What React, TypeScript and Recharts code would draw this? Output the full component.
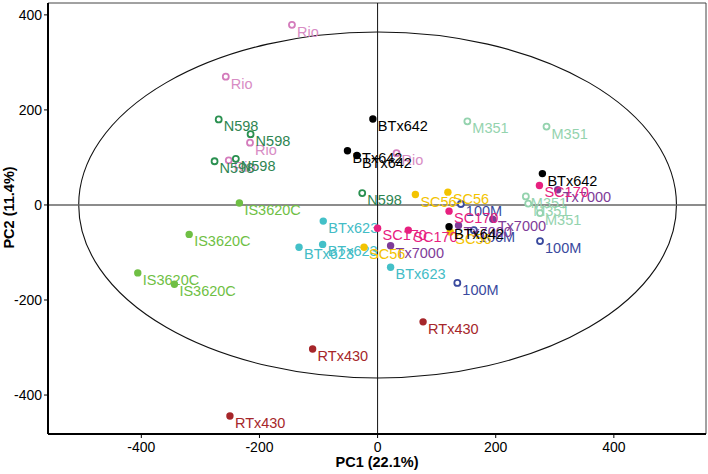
import React from 'react';
import { ScatterChart, Scatter, XAxis, YAxis, ReferenceLine, ReferenceArea } from 'recharts';

// PC1 / PC2 scores per genotype
const rio = [
  { x: -145, y: 379 },
  { x: -257, y: 270 },
  { x: -216, y: 131 },
  { x: -252, y: 94 },
  { x: 32, y: 109 },
];
const n598 = [
  { x: -269, y: 180 },
  { x: -215, y: 149 },
  { x: -276, y: 92 },
  { x: -240, y: 97 },
  { x: -26, y: 25 },
];
const is3620c = [
  { x: -234, y: 4 },
  { x: -319, y: -62 },
  { x: -406, y: -143 },
  { x: -344, y: -167 },
];
const btx623 = [
  { x: -92, y: -34 },
  { x: -133, y: -89 },
  { x: -93, y: -83 },
  { x: 22, y: -131 },
];
const m351 = [
  { x: 152, y: 176 },
  { x: 286, y: 165 },
  { x: 251, y: 18 },
  { x: 255, y: 3 },
  { x: 275, y: -17 },
];
const m100 = [
  { x: 141, y: 2 },
  { x: 163, y: -53 },
  { x: 275, y: -76 },
  { x: 135, y: -164 },
];
const tx7000 = [
  { x: 305, y: 32 },
  { x: 195, y: -30 },
  { x: 137, y: -43 },
  { x: 22, y: -86 },
];
const sc56 = [
  { x: 64, y: 22 },
  { x: 119, y: 27 },
  { x: 123, y: -57 },
  { x: -23, y: -89 },
];
const sc170 = [
  { x: 274, y: 41 },
  { x: 121, y: -13 },
  { x: 0, y: -49 },
  { x: 52, y: -53 },
];
const btx642 = [
  { x: -8, y: 181 },
  { x: -51, y: 114 },
  { x: -35, y: 104 },
  { x: 279, y: 66 },
  { x: 121, y: -46 },
];
const rtx430 = [
  { x: 77, y: -246 },
  { x: -110, y: -303 },
  { x: -250, y: -444 },
];

const xTicks = [-400, -200, 0, 200, 400];
const yTicks = [-400, -200, 0, 200, 400];
const xDomain = [-558, 556];
const yDomain = [-482, 425];
// 95% confidence ellipse semi-axes (PC1, PC2)
const ellipseRx = 506;
const ellipseRy = 364;

const xTitle = 'PC1 (22.1%)';
const yTitle = 'PC2 (11.4%)';

type Style = { color: string; label: string; open: boolean };
const styles: Record<string, Style> = {
  Rio: { color: '#d47cbc', label: '#d88cc4', open: true },
  N598: { color: '#2a9050', label: '#2e8552', open: true },
  IS3620C: { color: '#6fbf44', label: '#6fbf44', open: false },
  BTx623: { color: '#43c0c8', label: '#43bcc6', open: false },
  M351: { color: '#94d3ae', label: '#94d3ae', open: true },
  '100M': { color: '#3a4a9e', label: '#3a4a9e', open: true },
  Tx7000: { color: '#7f3c98', label: '#7f3c98', open: false },
  SC56: { color: '#f3c300', label: '#f3c300', open: false },
  SC170: { color: '#e7207f', label: '#e7207f', open: false },
  BTx642: { color: '#000000', label: '#000000', open: false },
  RTx430: { color: '#a6262a', label: '#a6262a', open: false },
};

const series: { name: string; data: { x: number; y: number }[] }[] = [
  { name: 'Rio', data: rio },
  { name: 'N598', data: n598 },
  { name: 'IS3620C', data: is3620c },
  { name: 'BTx623', data: btx623 },
  { name: 'M351', data: m351 },
  { name: '100M', data: m100 },
  { name: 'Tx7000', data: tx7000 },
  { name: 'SC56', data: sc56 },
  { name: 'SC170', data: sc170 },
  { name: 'BTx642', data: btx642 },
  { name: 'RTx430', data: rtx430 },
];

const FONT = '"Liberation Sans", Arial, Helvetica, sans-serif';

const makeShape = (name: string) => (props: any) => {
  const { cx, cy } = props;
  if (cx == null || cy == null) return <g />;
  const s = styles[name];
  return (
    <g>
      {s.open ? (
        <circle cx={cx} cy={cy} r={3} fill="#fff" stroke={s.color} strokeWidth={1.8} />
      ) : (
        <circle cx={cx} cy={cy} r={3.7} fill={s.color} />
      )}
      <text x={cx + 5} y={cy + 12} fill={s.label} fontSize={14.5} fontFamily={FONT}>
        {name}
      </text>
    </g>
  );
};

const EllipseShape = (props: any) => {
  const { x, y, width, height } = props;
  return (
    <ellipse
      cx={x + width / 2}
      cy={y + height / 2}
      rx={Math.abs(width) / 2}
      ry={Math.abs(height) / 2}
      fill="none"
      stroke="#111"
      strokeWidth={1.1}
    />
  );
};

const YTitle = (props: any) => {
  const vb = props.viewBox || { x: 0, y: 0, width: 48, height: 431 };
  const cx = vb.x + 9;
  const cy = vb.y + vb.height / 2 - 11;
  return (
    <text
      x={cx}
      y={cy}
      transform={`rotate(-90 ${cx} ${cy})`}
      textAnchor="middle"
      dominantBaseline="central"
      fontWeight="bold"
      fontSize={14.5}
      fontFamily={FONT}
      fill="#000"
    >
      {yTitle}
    </text>
  );
};

const XTitle = (props: any) => {
  const vb = props.viewBox || { x: 48, y: 434, width: 658, height: 40 };
  return (
    <text
      x={vb.x + vb.width / 2}
      y={vb.y + 33}
      textAnchor="middle"
      fontWeight="bold"
      fontSize={14.5}
      fontFamily={FONT}
      fill="#000"
    >
      {xTitle}
    </text>
  );
};

export default function App() {
  return (
    <div style={{ position: 'absolute', left: 0, top: 0, width: 708, height: 474, background: '#fff' }}>
      <ScatterChart
        width={708}
        height={474}
        margin={{ top: 3, right: 2, bottom: 0, left: 0 }}
        style={{ fontFamily: FONT }}
      >
        <XAxis
          type="number"
          dataKey="x"
          domain={xDomain}
          ticks={xTicks}
          allowDataOverflow
          height={40}
          tickSize={4}
          tickMargin={4}
          axisLine={{ stroke: '#000', strokeWidth: 2 }}
          tickLine={{ stroke: '#000' }}
          tick={{ fill: '#000', fontSize: 14, fontFamily: FONT }}
          label={<XTitle />}
        />
        <YAxis
          type="number"
          dataKey="y"
          domain={yDomain}
          ticks={yTicks}
          allowDataOverflow
          width={48}
          tickSize={4}
          tickMargin={2}
          axisLine={{ stroke: '#000', strokeWidth: 2 }}
          tickLine={{ stroke: '#000' }}
          tick={{ fill: '#000', fontSize: 14, fontFamily: FONT }}
          label={<YTitle />}
        />
        <ReferenceArea
          x1={xDomain[0]}
          x2={xDomain[1]}
          y1={yDomain[0]}
          y2={yDomain[1]}
          fill="none"
          stroke="#444"
          strokeWidth={1}
          fillOpacity={0}
          ifOverflow="visible"
        />
        <ReferenceLine y={0} stroke="#666" strokeWidth={1.6} />
        <ReferenceLine x={0} stroke="#111" strokeWidth={1} />
        <ReferenceArea
          x1={-ellipseRx}
          x2={ellipseRx}
          y1={-ellipseRy}
          y2={ellipseRy}
          shape={<EllipseShape />}
        />
        {series.map((s) => (
          <Scatter
            key={s.name}
            name={s.name}
            data={s.data}
            isAnimationActive={false}
            shape={makeShape(s.name)}
          />
        ))}
      </ScatterChart>
    </div>
  );
}
